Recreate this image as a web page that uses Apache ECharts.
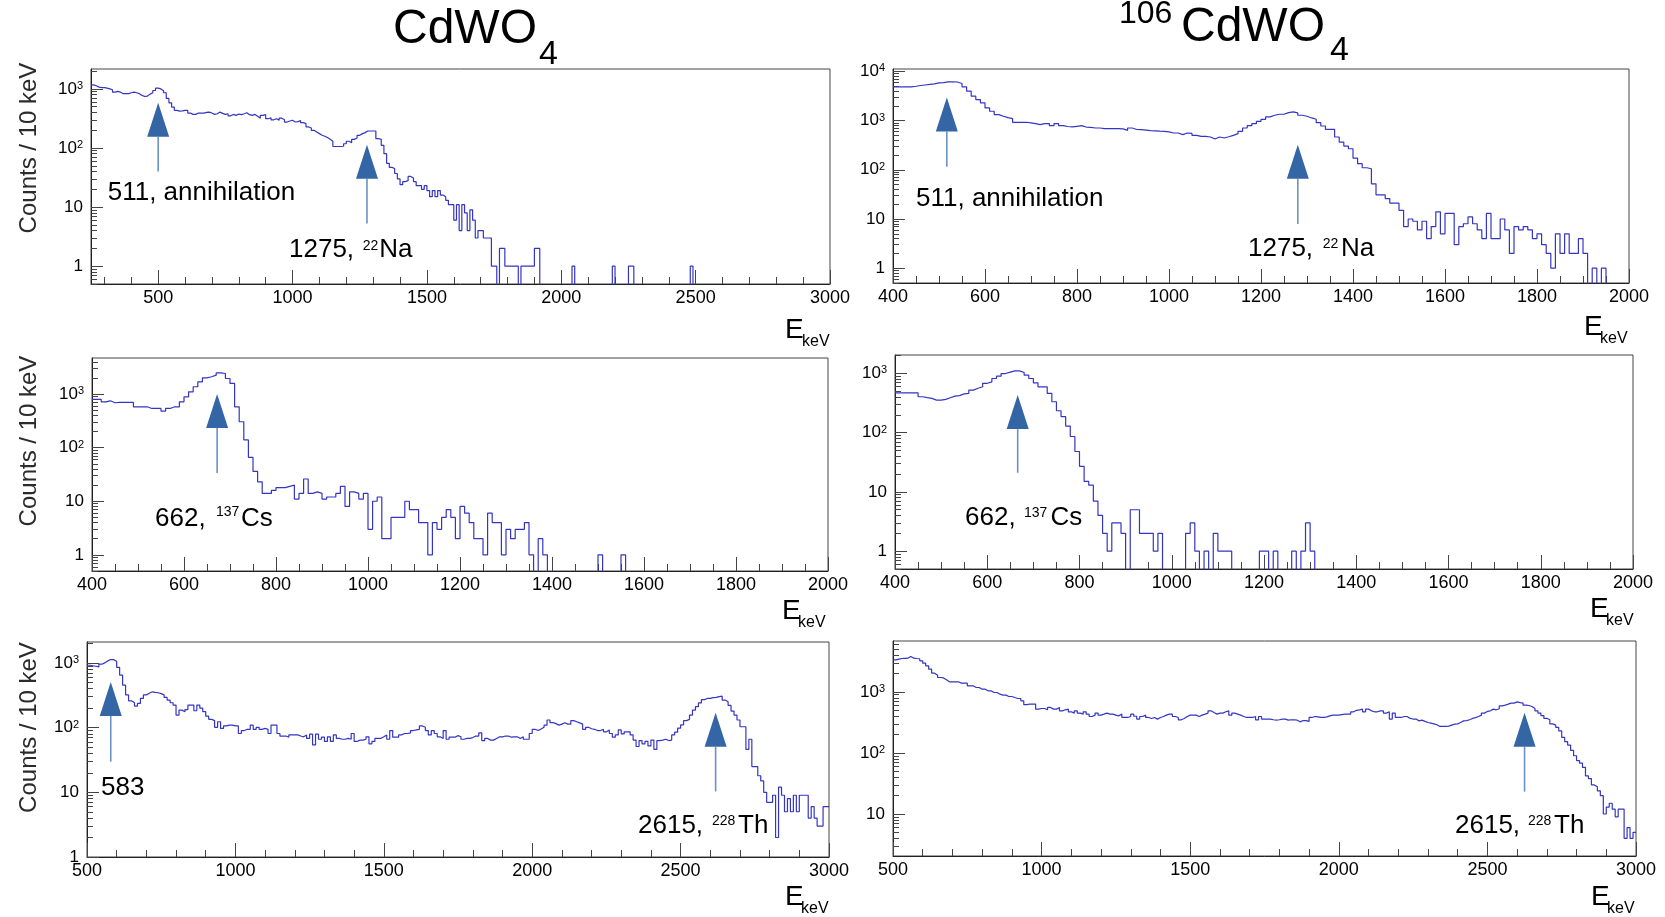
<!DOCTYPE html>
<html>
<head>
<meta charset="utf-8">
<script src="https://cdn.jsdelivr.net/npm/echarts@6/dist/echarts.min.js"></script>
<style>
  html, body { margin: 0; padding: 0; background: #fff; }
  #chart { width: 1665px; height: 917px; }
</style>
</head>
<body>
<div id="chart"></div>
<script>
// counts per 10 keV bin; first bin starts at *Start (keV)
const BIN = 10;

const tlStart = 250;
const tlCounts = [
  1170,1130,1070,1050,1050,1030,1000,965,880,905,
  880,830,830,830,860,880,860,830,775,745,
  755,815,860,940,1030,1000,930,860,690,580,
  493,433,420,426,433,433,390,370,370,390,
  390,390,400,405,390,370,380,405,385,370,
  380,350,370,356,375,366,380,395,366,356,
  370,343,320,356,366,313,325,300,313,295,
  320,300,275,286,295,275,280,290,268,258,
  227,218,199,187,175,164,158,150,140,130,
  106,106,106,107,118,130,123,140,148,164,
  175,182,194,194,194,194,144,140,111,80,
  55,47,45,37,30,24,27,28,33,31,
  27,23,23,20,23,19,15,19,15,19,
  16,15,13,11,11,6,11,4,11,8,
  4,9,6,3,4,4,3,3,3,1,
  1,0,2,2,1,1,1,1,1,0,
  1,1,1,1,1,2,2,0,0,0,
  0,0,0,0,0,0,0,0,0,1,
  0,0,0,0,0,0,0,0,0,0,
  0,0,0,0,1,0,0,0,0,0,
  1,1,0,0,0,0,0,0,0,0,
  0,0,0,0,0,0,0,0,0,0,
  0,0,0,1,0
];

const trStart = 400;
const trCounts = [
  4860,4860,4860,4860,5000,5180,5300,5430,5600,5870,
  5900,6150,6150,6100,5690,4860,3970,3140,2680,2300,
  1815,1550,1325,1225,1150,1100,925,925,925,900,
  868,828,868,868,790,868,790,760,743,766,
  790,740,731,708,708,687,687,690,687,680,
  635,708,660,655,640,625,620,610,605,590,
  560,560,518,560,550,500,479,479,464,423,
  464,443,470,500,543,605,708,790,868,968,
  1064,1188,1285,1346,1346,1456,1503,1433,1285,1225,
  1133,1064,910,778,665,665,464,367,304,268,
  173,133,110,105,52,31,31,26,21,21,
  15,7,10,9,6,9,4,7,14,5,
  13,13,3,7,8,11,8,6,4,13,
  4,4,10,6,2,7,6,7,6,4,
  5,3,2,1,5,2,5,2,2,4,
  2,0,1,0,1,0
];

const mlStart = 400;
const mlCounts = [
  792,792,716,748,687,697,697,697,697,578,
  578,578,538,538,538,481,538,578,578,716,
  888,1101,1366,1690,2005,2100,2250,2485,2415,1950,
  1574,578,304,139,66,36,23,14,14,16,
  18,18,19,20,11,14,26,14,15,14,
  11,12,12,14,19,8,15,14,11,14,
  3,10,12,2,2,5,5,5,10,7,
  7,4,4,1,4,3,5,7,5,2,
  8,6,4,2,2,1,6,4,4,1,
  3,2,3,3,4,1,0,2,1,0,
  0,0,0,0,0,0,0,0,0,0,
  1,0,0,0,0,1,0
];

const mrStart = 400;
const mrCounts = [
  470,470,470,470,470,403,390,378,354,354,
  363,387,413,420,450,458,521,560,593,680,
  719,819,896,993,1050,1101,1101,1032,931,819,
  692,593,593,458,332,234,186,129,86,48,
  27,15,13,7,4,2,1,3,3,2,
  0,5,5,2,2,2,1,2,0,0,
  0,0,0,2,3,1,0,1,0,2,
  1,1,1,0,0,0,0,0,0,1,
  1,0,1,0,0,0,1,0,1,3,
  1,0
];

const blStart = 500;
const blCounts = [
  919,900,887,866,953,1000,1072,1124,1124,1050,
  850,645,452,320,259,242,215,236,282,320,
  340,357,350,345,335,320,292,266,242,223,
  156,186,176,190,223,223,182,223,200,176,
  150,134,128,101,123,97,106,109,109,106,
  106,81,90,94,94,109,94,101,94,97,
  94,81,109,109,81,74,74,71,77,77,
  77,74,72,77,68,79,54,79,66,71,
  61,72,61,77,68,66,66,68,66,81,
  61,64,64,66,72,56,61,68,68,72,
  77,66,90,71,71,77,81,81,83,90,
  92,94,106,101,90,77,90,81,72,68,
  90,66,71,71,75,72,66,68,68,70,
  74,74,83,63,68,64,64,68,72,72,
  74,74,71,72,72,68,72,66,66,81,
  94,90,95,101,109,131,119,115,109,113,
  119,113,113,128,123,118,113,94,101,96,
  94,90,90,94,86,92,81,71,77,92,
  80,86,86,77,64,51,63,56,61,52,
  64,46,63,64,66,63,64,77,85,98,
  110,128,134,156,186,210,240,270,282,282,
  290,292,300,306,266,250,220,180,156,131,
  103,103,46,66,25,25,18,15,10,7,
  7,9,2,12,9,5,8,5,9,5,
  9,9,9,4,6,4,3,3,6,6
];

const brStart = 500;
const brCounts = [
  3357,3450,3532,3560,3575,3805,3575,3532,3500,3236,
  2960,2677,2362,2031,1884,1725,1700,1580,1466,1466,
  1466,1466,1394,1394,1394,1260,1260,1183,1183,1111,
  1111,1044,1044,980,980,920,887,887,843,843,
  811,781,781,716,620,631,631,631,523,536,
  536,510,557,523,523,557,491,510,523,473,
  450,491,450,433,473,433,396,417,450,417,
  433,450,433,433,417,406,433,382,382,396,
  433,400,359,396,417,382,368,382,359,382,
  396,417,433,433,396,382,350,368,396,417,
  417,417,396,417,433,450,491,461,433,450,
  450,473,491,417,450,433,417,396,382,382,
  382,396,350,396,359,359,359,350,345,350,
  359,359,345,350,350,345,324,340,340,330,
  382,396,390,382,382,390,406,417,417,417,
  425,433,433,433,473,500,510,523,473,523,
  491,473,473,491,491,450,473,359,450,382,
  382,396,396,368,360,359,336,345,330,316,
  308,300,290,272,272,272,275,286,297,300,
  316,336,340,350,368,380,396,417,450,480,
  491,523,510,530,593,610,631,656,656,689,
  670,656,608,600,578,536,491,450,410,370,
  350,300,286,262,231,180,153,135,110,90,
  75,68,58,42,38,30,28,24,20,10,
  13,15,12,9,12,12,4,6,4,5
];

// arrows: [keV, count at tip, count at tail]
const tlArrows = [[500, 583, 40], [1277, 114, 5.3]];
const trArrows = [[517, 2950, 115], [1280, 324, 7.9]];
const mlArrows = [[672, 1000, 33.6]];
const mrArrows = [[666, 430, 21]];
const blArrows = [[580, 508, 29.7], [2618, 169, 10.3]];
const brArrows = [[2625, 455, 23.2]];

// x tick labels
const ticks500 = [500, 1000, 1500, 2000, 2500, 3000];
const ticks200 = [400, 600, 800, 1000, 1200, 1400, 1600, 1800, 2000];

const FONT = '"Liberation Sans", Arial, Helvetica, sans-serif';
const LINE = '#3535c4';

const panels = [
  { grid: { left: 91, top: 69, width: 739, height: 215 }, x: [250, 3000], major: ticks500, minorStep: 100,
    y: [0.5, 2170], start: tlStart, counts: tlCounts, arrows: tlArrows },
  { grid: { left: 893, top: 69, width: 736, height: 214 }, x: [400, 2000], major: ticks200, minorStep: 50,
    y: [0.5, 11200], start: trStart, counts: trCounts, arrows: trArrows },
  { grid: { left: 92, top: 358, width: 736, height: 213 }, x: [400, 2000], major: ticks200, minorStep: 50,
    y: [0.5, 4700], start: mlStart, counts: mlCounts, arrows: mlArrows },
  { grid: { left: 895, top: 355, width: 738, height: 214 }, x: [400, 2000], major: ticks200, minorStep: 50,
    y: [0.5, 2040], start: mrStart, counts: mrCounts, arrows: mrArrows },
  { grid: { left: 87, top: 642, width: 742, height: 215 }, x: [500, 3000], major: ticks500, minorStep: 100,
    y: [1, 2100], start: blStart, counts: blCounts, arrows: blArrows },
  { grid: { left: 893, top: 641, width: 743, height: 215 }, x: [500, 3000], major: ticks500, minorStep: 100,
    y: [2.05, 6840], start: brStart, counts: brCounts, arrows: brArrows }
];

const lg = v => (v > 0 ? Math.log10(v) : -5);

function stepData(start, counts) {
  const d = counts.map((c, i) => [start + i * BIN, lg(c)]);
  d.push([start + counts.length * BIN, lg(counts[counts.length - 1])]);
  return d;
}

function logTicks(lo, hi) {
  const major = [], minor = [];
  for (let e = Math.floor(Math.log10(lo)); e <= Math.ceil(Math.log10(hi)); e++) {
    for (let m = 1; m < 10; m++) {
      const v = m * Math.pow(10, e);
      if (v < lo * 0.9999 || v > hi) continue;
      (m === 1 ? major : minor).push(Math.log10(v));
    }
  }
  return { major, minor };
}

function drawArrow(params, api) {
  const tip = api.coord([api.value(0), api.value(1)]);
  const tail = api.coord([api.value(0), api.value(2)]);
  const hw = 11, hl = 34;
  return {
    type: 'group',
    children: [
      { type: 'line', shape: { x1: tip[0], y1: tip[1] + hl, x2: tail[0], y2: tail[1] },
        style: { stroke: '#6a92c6', lineWidth: 1.6 } },
      { type: 'polygon', shape: { points: [[tip[0], tip[1]], [tip[0] - hw, tip[1] + hl], [tip[0] + hw, tip[1] + hl]] },
        style: { fill: '#3465a4' } }
    ]
  };
}

const option = {
  animation: false,
  backgroundColor: '#fff',
  grid: [], xAxis: [], yAxis: [], series: [], graphic: []
};

panels.forEach((p, i) => {
  option.grid.push(Object.assign({
    show: true, borderColor: '#444', borderWidth: 1, containLabel: false, outerBoundsMode: 'none'
  }, p.grid));

  const minor = [];
  for (let v = Math.ceil(p.x[0] / p.minorStep) * p.minorStep; v <= p.x[1]; v += p.minorStep) {
    if (!p.major.includes(v) && v > p.x[0]) minor.push(v);
  }
  option.xAxis.push({
    gridIndex: i, type: 'value', min: p.x[0], max: p.x[1], position: 'bottom',
    axisLine: { show: true, onZero: false, lineStyle: { color: '#222', width: 1 } },
    axisTick: { show: true, inside: true, length: 14, customValues: p.major, lineStyle: { color: '#444' } },
    axisLabel: { customValues: p.major, fontSize: 18, fontFamily: FONT, color: '#000', margin: 5,
      formatter: v => String(v) },
    splitLine: { show: false }
  }, {
    gridIndex: i, type: 'value', min: p.x[0], max: p.x[1], position: 'bottom',
    axisLine: { show: false, onZero: false },
    axisTick: { show: true, inside: true, length: 7, customValues: minor, lineStyle: { color: '#444' } },
    axisLabel: { show: false },
    splitLine: { show: false }
  });

  const yt = logTicks(p.y[0], p.y[1]);
  option.yAxis.push({
    gridIndex: i, type: 'value', min: Math.log10(p.y[0]), max: Math.log10(p.y[1]), position: 'left',
    axisLine: { show: true, onZero: false, lineStyle: { color: '#222', width: 1 } },
    axisTick: { show: true, inside: true, length: 12, customValues: yt.major, lineStyle: { color: '#444' } },
    axisLabel: {
      customValues: yt.major, fontSize: 17, fontFamily: FONT, color: '#000', margin: 8,
      formatter: v => {
        const e = Math.round(v);
        return e === 0 ? '1' : e === 1 ? '10' : '10{s|' + e + '}';
      },
      rich: { s: { fontSize: 11, fontFamily: FONT, color: '#000', verticalAlign: 'top', lineHeight: 11 } }
    },
    splitLine: { show: false }
  }, {
    gridIndex: i, type: 'value', min: Math.log10(p.y[0]), max: Math.log10(p.y[1]), position: 'left',
    axisLine: { show: false, onZero: false },
    axisTick: { show: true, inside: true, length: 6, customValues: yt.minor, lineStyle: { color: '#444' } },
    axisLabel: { show: false },
    splitLine: { show: false }
  });

  option.series.push({
    type: 'line', xAxisIndex: 2 * i, yAxisIndex: 2 * i, step: 'end', symbol: 'none', clip: true, silent: true,
    data: stepData(p.start, p.counts),
    lineStyle: { color: LINE, width: 1.2 }
  }, {
    type: 'custom', xAxisIndex: 2 * i, yAxisIndex: 2 * i, silent: true,
    data: p.arrows.map(a => [a[0], Math.log10(a[1]), Math.log10(a[2])]),
    renderItem: drawArrow
  });
});

function txt(x, base, s, size, extra) {
  return Object.assign({
    type: 'text', x: x, y: base - 0.35 * size, silent: true,
    style: { text: s, font: size + 'px ' + FONT, fill: '#000',
      align: 'left', verticalAlign: 'middle', textAlign: 'left', textVerticalAlign: 'middle' }
  }, extra || {});
}

function yTitle(cy) {
  return {
    type: 'text', x: 29.5, y: cy, rotation: Math.PI / 2, silent: true,
    style: { text: 'Counts / 10 keV', font: '24px ' + FONT, fill: '#2b2b2b',
      align: 'center', verticalAlign: 'middle', textAlign: 'center', textVerticalAlign: 'middle' }
  };
}

option.graphic = [
  // titles
  txt(393, 47, 'CdWO', 48), txt(539, 67, '4', 34),
  txt(1119, 25, '106', 32), txt(1181, 45, 'CdWO', 48), txt(1330, 63, '4', 34),
  // y titles
  yTitle(148), yTitle(441), yTitle(727.5),
  // x titles
  txt(785, 340, 'E', 28), txt(802, 347, 'keV', 16),
  txt(1584, 337, 'E', 28), txt(1600, 344, 'keV', 16),
  txt(782, 621, 'E', 28), txt(798, 628, 'keV', 16),
  txt(1590, 619, 'E', 28), txt(1606, 626, 'keV', 16),
  txt(785, 907, 'E', 28), txt(801, 914, 'keV', 16),
  txt(1591, 907, 'E', 28), txt(1607, 914, 'keV', 16),
  // annotations
  txt(107.7, 201.7, '511, annihilation', 26),
  txt(289, 259, '1275,', 26), txt(362.7, 250.7, '22', 14), txt(379.3, 259, 'Na', 26),
  txt(916, 207.5, '511, annihilation', 26),
  txt(1248, 258, '1275,', 26), txt(1322.7, 249, '22', 14), txt(1341, 258, 'Na', 26),
  txt(155, 527.5, '662,', 26), txt(216, 516.7, '137', 14), txt(241, 527.5, 'Cs', 26),
  txt(965, 527, '662,', 26), txt(1024, 518, '137', 14), txt(1050.5, 527, 'Cs', 26),
  txt(101, 796.5, '583', 26),
  txt(638, 835, '2615,', 26), txt(712, 826, '228', 14), txt(738, 835, 'Th', 26),
  txt(1455, 835, '2615,', 26), txt(1528, 825.7, '228', 14), txt(1554, 835, 'Th', 26)
];

const chart = echarts.init(document.getElementById('chart'), null, { renderer: 'canvas' });
chart.setOption(option);
window.addEventListener('resize', () => chart.resize());
</script>
</body>
</html>
